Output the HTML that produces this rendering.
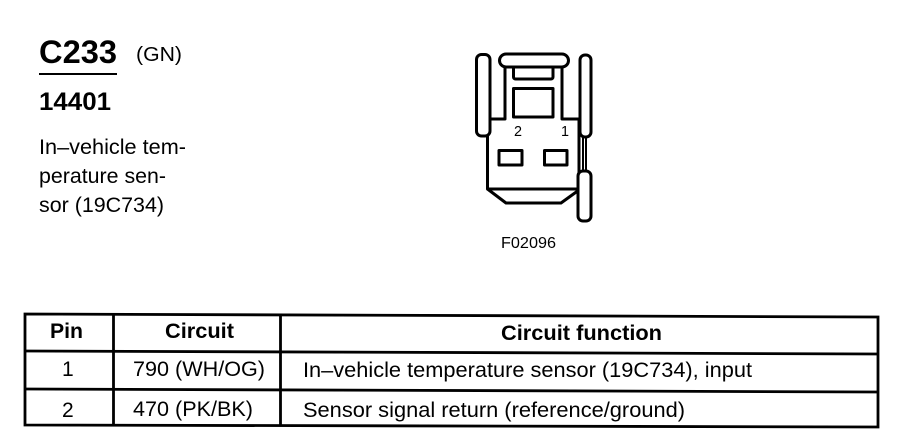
<!DOCTYPE html>
<html>
<head>
<meta charset="utf-8">
<style>
html,body{margin:0;padding:0;background:#fff;width:898px;height:448px;overflow:hidden}
svg{display:block}
text{font-family:"Liberation Sans",Arial,sans-serif;fill:#000}
.b{font-weight:bold}
</style>
</head>
<body>
<svg width="898" height="448" viewBox="0 0 898 448" xmlns="http://www.w3.org/2000/svg">
<text class="b" x="39" y="63" font-size="32" textLength="78" lengthAdjust="spacingAndGlyphs">C233</text>
<text x="136" y="61" font-size="20" textLength="46" lengthAdjust="spacingAndGlyphs">(GN)</text>
<line x1="39" y1="74" x2="117" y2="74" stroke="#000" stroke-width="2"/>
<text class="b" x="39" y="110" font-size="25" textLength="72" lengthAdjust="spacingAndGlyphs">14401</text>
<text x="39" y="154" font-size="21" textLength="147" lengthAdjust="spacingAndGlyphs">In–vehicle tem-</text>
<text x="39" y="183" font-size="21" textLength="127" lengthAdjust="spacingAndGlyphs">perature sen-</text>
<text x="39" y="212" font-size="21" textLength="125" lengthAdjust="spacingAndGlyphs">sor (19C734)</text>

<g fill="none" stroke="#000" stroke-width="3" stroke-linejoin="round">
<path d="M505 66V119H487.500V189H579V119H562V66"/>
<path d="M487.500 189L506 203H561L579 190"/>
<path d="M583 137V171M586 137V171" stroke-width="2"/>
<rect x="476.500" y="54.500" width="13.500" height="81.500" rx="5" fill="#fff"/>
<rect x="580" y="55" width="11" height="82" rx="5" fill="#fff"/>
<rect x="578" y="171" width="13" height="50" rx="5" fill="#fff"/>
<rect x="513.500" y="64" width="39.500" height="15" rx="2"/>
<rect x="499.500" y="54" width="69" height="13" rx="6.500" fill="#fff"/>
<rect x="513.500" y="88.500" width="39.500" height="28.500"/>
<rect x="499" y="150.500" width="23" height="14.500"/>
<rect x="544.500" y="150.500" width="22.500" height="14.500"/>
</g>
<text x="514" y="136" font-size="15" textLength="8" lengthAdjust="spacingAndGlyphs">2</text>
<text x="561" y="136" font-size="15" textLength="8" lengthAdjust="spacingAndGlyphs">1</text>
<text x="501" y="248" font-size="15.500" textLength="55" lengthAdjust="spacingAndGlyphs">F02096</text>

<g fill="none" stroke="#000" stroke-width="2.800">
<path d="M25 314L878 317V427L25 425Z"/>
<path d="M25 351L878 354"/>
<path d="M25 389L878 392"/>
<path d="M113.500 314V426M280.500 315V426"/>
</g>
<text class="b" x="50" y="338" font-size="21" textLength="33" lengthAdjust="spacingAndGlyphs">Pin</text>
<text class="b" x="165" y="338" font-size="21" textLength="69" lengthAdjust="spacingAndGlyphs">Circuit</text>
<text class="b" x="501" y="340" font-size="21" textLength="161" lengthAdjust="spacingAndGlyphs">Circuit function</text>
<text x="62" y="376" font-size="21">1</text>
<text x="133" y="376" font-size="21" textLength="132" lengthAdjust="spacingAndGlyphs">790 (WH/OG)</text>
<text x="303" y="377" font-size="21" textLength="449" lengthAdjust="spacingAndGlyphs">In–vehicle temperature sensor (19C734), input</text>
<text x="62" y="417" font-size="21">2</text>
<text x="133" y="416" font-size="21" textLength="120" lengthAdjust="spacingAndGlyphs">470 (PK/BK)</text>
<text x="303" y="417" font-size="21" textLength="382" lengthAdjust="spacingAndGlyphs">Sensor signal return (reference/ground)</text>
</svg>
</body>
</html>
